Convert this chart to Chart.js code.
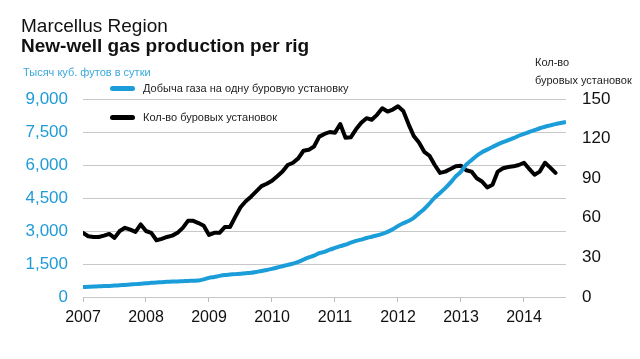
<!DOCTYPE html>
<html>
<head>
<meta charset="utf-8">
<script src="https://cdn.jsdelivr.net/npm/chart.js@4"></script>
<style>
  body { margin: 0; background: #fff; font-family: "Liberation Sans", Arial, sans-serif; }
  #wrap { position: relative; width: 640px; height: 359px; }
  #wrap div { position: absolute; white-space: nowrap; }
  .t1 { left: 21px; top: 15px; font-size: 19px; color: #111; }
  .t2 { left: 21px; top: 35px; font-size: 19px; font-weight: bold; color: #111; }
  .ylab { left: 23px; top: 66px; font-size: 11px; color: #3aa8dc; }
  .rlab { left: 535px; font-size: 11px; color: #222; }
  .leg { font-size: 11px; color: #222; }
  .sw { width: 25px; height: 5px; border-radius: 3px; }
</style>
</head>
<body>
<div id="wrap">
  <canvas id="chart" width="640" height="359"></canvas>
  <div class="t1">Marcellus Region</div>
  <div class="t2">New-well gas production per rig</div>
  <div class="ylab">Тысяч куб. футов в сутки</div>
  <div class="rlab" style="top:56px">Кол-во</div>
  <div class="rlab" style="top:74px">буровых установок</div>
  <div class="sw" style="left:110px; top:86px; background:#1b9dd9"></div>
  <div class="leg" style="left:143px; top:82px">Добыча газа на одну буровую установку</div>
  <div class="sw" style="left:110px; top:115px; background:#000"></div>
  <div class="leg" style="left:143px; top:111px">Кол-во буровых установок</div>
</div>
<script>
// monthly series, Jan 2007 onwards
const startYear = 2007;
const yearTicks = [2007, 2008, 2009, 2010, 2011, 2012, 2013, 2014];

// gas production per rig, thousand cubic feet per day (left axis)
const gasPerRig = [
  455, 465, 475, 485, 495, 505, 520, 535, 550, 565,
  585, 605, 630, 645, 660, 675, 690, 700, 710, 720,
  730, 740, 750, 800, 870, 910, 960, 1000, 1020, 1040,
  1060, 1080, 1100, 1140, 1180, 1230, 1280, 1340, 1400, 1460,
  1520, 1600, 1700, 1800, 1880, 1990, 2050, 2150, 2230, 2310,
  2380, 2470, 2550, 2610, 2680, 2740, 2800, 2870, 2960, 3080,
  3230, 3350, 3450, 3600, 3800, 4000, 4250, 4520, 4730, 4950,
  5200, 5480, 5700, 6020, 6220, 6420, 6580, 6700, 6820, 6940,
  7040, 7130, 7220, 7330, 7420, 7500, 7580, 7670, 7740, 7800,
  7860, 7910, 7960
];

// rig count (right axis)
const rigCount = [
  48.6, 46, 45.5, 45.5, 46.5, 47.8, 44.8, 50, 52.4, 51,
  49.3, 55, 50, 48.6, 43, 44, 45.5, 46.5, 48.6, 52.4,
  57.7, 57.7, 56, 54, 47, 48.6, 48.6, 53, 53, 60.7,
  68, 72.5, 76, 80, 84, 85.8, 88, 91.5, 95, 100,
  101.7, 105, 110.8, 111.5, 114, 121.5, 123.5, 125, 124.5, 131,
  120.7, 121, 127, 132, 135.5, 134.3, 138, 143, 140.5, 142,
  144.5, 141, 131, 122, 117, 110, 107, 100, 94, 95,
  97, 99, 99.4, 96, 95, 90, 87.5, 83, 85, 95,
  97.5, 98.5, 99, 100, 101.7, 97, 92.6, 95, 101.7, 98,
  94
];

const leftTicks = [0, 1500, 3000, 4500, 6000, 7500, 9000];
const rightTicks = [0, 30, 60, 90, 120, 150];

// month labels -> position in years
const months = [];
for (let i = 0; i < gasPerRig.length; i++) {
  const y = startYear + Math.floor(i / 12);
  const m = (i % 12) + 1;
  months.push(y + '-' + (m < 10 ? '0' + m : m));
}
function toYear(label) {
  const p = label.split('-');
  return +p[0] + (+p[1] - 1) / 12;
}

const font = '"Liberation Sans", Arial, sans-serif';

new Chart(document.getElementById('chart'), {
  type: 'line',
  data: {
    datasets: [{
      label: 'Добыча газа на одну буровую установку',
      data: gasPerRig.map((v, i) => ({ x: toYear(months[i]), y: v })),
      yAxisID: 'yL',
      borderColor: '#1b9dd9',
      borderWidth: 4,
      pointRadius: 0,
      tension: 0.3,
      order: 0
    }, {
      label: 'Кол-во буровых установок',
      data: rigCount.map((v, i) => ({ x: toYear(months[i]), y: v })),
      yAxisID: 'yR',
      borderColor: '#000',
      borderWidth: 4,
      borderJoinStyle: 'round',
      borderCapStyle: 'round',
      pointRadius: 0,
      tension: 0,
      order: 1
    }]
  },
  options: {
    responsive: false,
    animation: false,
    events: [],
    layout: { padding: { top: 99, left: 0, right: 0, bottom: 0 } },
    plugins: { legend: { display: false }, tooltip: { enabled: false } },
    scales: {
      x: {
        type: 'linear',
        min: 2007,
        max: 2014 + 8 / 12,
        afterBuildTicks: s => { s.ticks = yearTicks.map(v => ({ value: v })); },
        afterFit: s => { s.height = 62; },
        border: { display: false },
        grid: { drawOnChartArea: false, drawTicks: true, tickLength: 5, color: '#bbb' },
        ticks: { color: '#111', font: { family: font, size: 16 }, padding: 6, maxRotation: 0,
                 callback: v => String(v) }
      },
      yL: {
        position: 'left',
        min: 0, max: 9000,
        afterBuildTicks: s => { s.ticks = leftTicks.map(v => ({ value: v })); },
        afterFit: s => { s.width = 83; },
        border: { display: false },
        grid: { color: '#c8c8c8', lineWidth: 1, drawTicks: false },
        ticks: { color: '#1f9bd7', font: { family: font, size: 17 }, padding: 15,
                 callback: v => v.toLocaleString('en-US') }
      },
      yR: {
        position: 'right',
        min: 0, max: 150,
        afterBuildTicks: s => { s.ticks = rightTicks.map(v => ({ value: v })); },
        afterFit: s => { s.width = 74; },
        border: { display: false },
        grid: { drawOnChartArea: false, drawTicks: false },
        ticks: { color: '#111', font: { family: font, size: 17 }, padding: 16 }
      }
    }
  }
});
</script>
</body>
</html>
